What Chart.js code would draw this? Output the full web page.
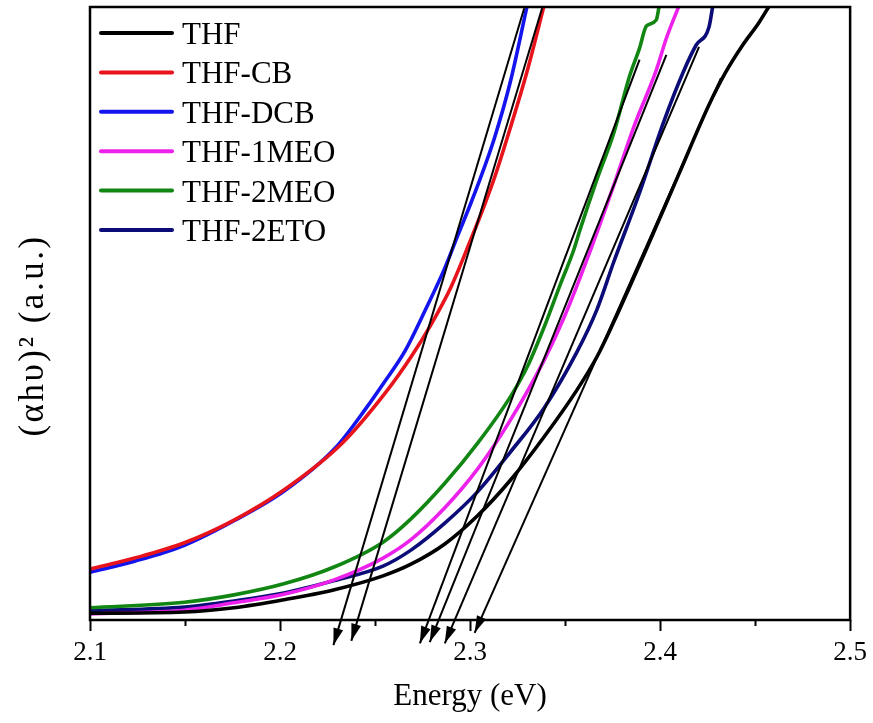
<!DOCTYPE html>
<html>
<head>
<meta charset="utf-8">
<script src="https://cdn.jsdelivr.net/npm/chart.js@4.4.1/dist/chart.umd.min.js"></script>
<style>
  html, body { margin: 0; padding: 0; background: #ffffff; }
  #wrap { width: 873px; height: 723px; }
  canvas { display: block; }
</style>
</head>
<body>
<div id="wrap"><canvas id="chart" width="873" height="723" style="width:873px;height:723px"></canvas></div>
<script>
// Tauc plot: (alpha*h*nu)^2 versus photon energy for six solvent systems.

const seriesNames  = ['THF', 'THF-CB', 'THF-DCB', 'THF-1MEO', 'THF-2MEO', 'THF-2ETO'];
const seriesColors = ['#000000', '#e8141c', '#1414ee', '#ec22ec', '#128612', '#0c0c78'];

// Energy (eV) and absorbance-squared (a.u.) for each series
const eTHF = [2.1000, 2.1497, 2.1758, 2.2020, 2.2281, 2.2542, 2.2689, 2.2867, 2.3039, 2.3212, 2.3390,
              2.3562, 2.3667, 2.3756, 2.3839, 2.3928, 2.4101, 2.4257, 2.4346, 2.4435, 2.4519, 2.4571];
const yTHF = [1.1, 1.3, 2.0, 3.3, 4.9, 7.2, 9.1, 12.4, 17.0, 22.8, 29.9,
              37.5, 42.9, 48.6, 54.3, 60.5, 72.9, 84.0, 89.4, 93.8, 97.4, 100.0];

const eCB = [2.1000, 2.1235, 2.1497, 2.1758, 2.2020, 2.2323, 2.2553, 2.2689, 2.2793, 2.2898,
             2.3003, 2.3076, 2.3128, 2.3212, 2.3301, 2.3390];
const yCB = [8.3, 10.1, 12.6, 16.3, 21.2, 28.7, 37.0, 42.9, 48.1, 54.2,
             62.0, 67.7, 72.1, 80.3, 89.6, 100.3];

const eDCB = [2.1000, 2.1235, 2.1497, 2.1758, 2.2020, 2.2292, 2.2454, 2.2542, 2.2658, 2.2762,
              2.2867, 2.2935, 2.3003, 2.3039, 2.3128, 2.3212, 2.3301];
const yDCB = [7.8, 9.6, 12.2, 16.2, 21.0, 28.1, 34.6, 38.5, 43.9, 50.4,
              57.4, 62.7, 67.9, 70.8, 78.6, 87.8, 100.3];

const e1MEO = [2.1000, 2.1497, 2.1758, 2.2020, 2.2281, 2.2542, 2.2689, 2.2867, 2.3039, 2.3212,
               2.3390, 2.3494, 2.3614, 2.3756, 2.3860, 2.3980, 2.4033, 2.4101];
const y1MEO = [1.0, 1.6, 2.8, 4.2, 6.5, 10.1, 13.1, 18.3, 24.6, 32.6,
               42.4, 49.3, 58.7, 70.9, 80.3, 89.7, 94.9, 100.3];

const e2MEO = [2.1000, 2.1497, 2.1758, 2.2020, 2.2281, 2.2542, 2.2689, 2.2867, 2.3039, 2.3212, 2.3301,
               2.3390, 2.3473, 2.3546, 2.3578, 2.3667, 2.3756, 2.3839, 2.3892, 2.3928, 2.3980, 2.3996];
const y2MEO = [2.0, 2.9, 4.1, 5.9, 8.6, 12.7, 16.5, 22.3, 28.8, 36.4, 41.3,
               47.8, 54.6, 60.4, 63.6, 71.8, 79.4, 88.7, 93.3, 96.9, 97.9, 100.3];

const e2ETO = [2.1000, 2.1497, 2.1758, 2.2020, 2.2281, 2.2542, 2.2689, 2.2867, 2.3039, 2.3212,
               2.3390, 2.3562, 2.3667, 2.3756, 2.3892, 2.4017, 2.4122, 2.4190, 2.4257, 2.4278];
const y2ETO = [1.5, 2.1, 3.1, 4.4, 6.4, 8.8, 11.4, 15.8, 20.9, 27.4,
               34.6, 43.7, 50.6, 58.4, 69.7, 81.1, 89.4, 93.8, 96.7, 100.3];

// Linear-region extrapolations (start on the curve, arrow tip below the energy axis)
const fitStartE = [2.4320, 2.3379, 2.3285, 2.4033, 2.3892, 2.4205];
const fitStartY = [88.4, 99.8, 99.8, 92.2, 91.4, 93.5];
const fitEndE   = [2.3024, 2.2375, 2.2281, 2.2788, 2.2736, 2.2867];
const fitEndY   = [-2.1, -3.4, -4.1, -3.6, -3.8, -3.8];

const xTicks = [2.1, 2.2, 2.3, 2.4, 2.5];
const xMinorTicks = [2.15, 2.25, 2.35, 2.45];

const SERIF = "'Times New Roman', 'Liberation Serif', serif";
Chart.defaults.font.family = SERIF;
Chart.defaults.color = '#000000';

const energies = [eTHF, eCB, eDCB, e1MEO, e2MEO, e2ETO];
const values   = [yTHF, yCB, yDCB, y1MEO, y2MEO, y2ETO];

const curveSets = seriesNames.map((name, i) => ({
  label: name,
  data: energies[i].map((e, k) => ({ x: e, y: values[i][k] })),
  borderColor: seriesColors[i],
  borderWidth: 3.6,
  pointRadius: 0,
  cubicInterpolationMode: 'monotone',
  fill: false,
  order: 1
}));

const fitSets = seriesNames.map((name, i) => ({
  label: name + ' fit',
  isFit: true,
  data: [{ x: fitStartE[i], y: fitStartY[i] }, { x: fitEndE[i], y: fitEndY[i] }],
  borderColor: '#000000',
  borderWidth: 2,
  pointRadius: 0,
  tension: 0,
  fill: false,
  clip: false,
  order: 0
}));

const decorations = {
  id: 'decorations',
  afterDatasetsDraw(chart) {
    const ctx = chart.ctx;
    ctx.save();
    ctx.fillStyle = '#000000';
    chart.data.datasets.forEach((ds, i) => {
      if (!ds.isFit) return;
      const pts = chart.getDatasetMeta(i).data;
      const a = pts[pts.length - 2], b = pts[pts.length - 1];
      const ang = Math.atan2(b.y - a.y, b.x - a.x);
      const len = 17, half = 5;
      const bx = b.x - len * Math.cos(ang), by = b.y - len * Math.sin(ang);
      ctx.beginPath();
      ctx.moveTo(b.x, b.y);
      ctx.lineTo(bx + half * Math.sin(ang), by - half * Math.cos(ang));
      ctx.lineTo(bx - half * Math.sin(ang), by + half * Math.cos(ang));
      ctx.closePath();
      ctx.fill();
    });
    ctx.restore();
  },
  afterDraw(chart) {
    const ctx = chart.ctx;
    const area = chart.chartArea;
    const xs = chart.scales.x;
    ctx.save();

    // plot frame
    ctx.strokeStyle = '#000000';
    ctx.lineWidth = 2.5;
    ctx.strokeRect(area.left, area.top, area.right - area.left, area.bottom - area.top);

    // minor ticks on the energy axis
    ctx.lineWidth = 2;
    xMinorTicks.forEach(v => {
      const px = Math.round(xs.getPixelForValue(v)) + 0.5;
      ctx.beginPath();
      ctx.moveTo(px, area.bottom);
      ctx.lineTo(px, area.bottom + 6);
      ctx.stroke();
    });

    // legend
    ctx.font = '31px ' + SERIF;
    ctx.textAlign = 'left';
    ctx.textBaseline = 'alphabetic';
    seriesNames.forEach((name, i) => {
      const y = area.top + 26 + i * 39.4;
      ctx.strokeStyle = seriesColors[i];
      ctx.lineWidth = 4;
      ctx.lineCap = 'round';
      ctx.beginPath();
      ctx.moveTo(101, y);
      ctx.lineTo(172, y);
      ctx.stroke();
      ctx.fillStyle = '#000000';
      ctx.fillText(name, 182, y + 11);
    });

    // vertical axis title
    ctx.translate(34, (area.top + area.bottom) / 2 + 22);
    ctx.rotate(-Math.PI / 2);
    ctx.textAlign = 'center';
    ctx.textBaseline = 'middle';
    ctx.fillStyle = '#000000';
    ctx.font = '35px ' + SERIF;
    if ('letterSpacing' in ctx) ctx.letterSpacing = '2.5px';
    ctx.fillText('(\u03B1h\u03C5)\u00B2 (a.u.)', 0, 0);
    ctx.restore();
  }
};

new Chart(document.getElementById('chart'), {
  type: 'line',
  data: { datasets: [...fitSets, ...curveSets] },
  options: {
    responsive: false,
    animation: false,
    events: [],
    layout: { padding: { left: 0, right: 20, top: 7, bottom: 8 } },
    plugins: { legend: { display: false }, tooltip: { enabled: false } },
    scales: {
      x: {
        type: 'linear',
        min: 2.1,
        max: 2.5,
        afterBuildTicks(scale) { scale.ticks = xTicks.map(v => ({ value: v })); },
        afterFit(scale) { scale.height = 95; },
        border: { display: false },
        grid: { display: true, drawOnChartArea: false, drawTicks: true, tickLength: 11, tickWidth: 2, tickColor: '#000000' },
        ticks: {
          padding: 6,
          color: '#000000',
          maxRotation: 0,
          autoSkip: false,
          font: { family: SERIF, size: 27 },
          callback: v => Number(v).toFixed(1)
        },
        title: {
          display: true,
          text: 'Energy (eV)',
          color: '#000000',
          font: { family: SERIF, size: 31 },
          padding: 0
        }
      },
      y: {
        type: 'linear',
        min: 0,
        max: 100,
        afterFit(scale) { scale.width = 90; },
        border: { display: false },
        grid: { display: false },
        ticks: { display: false },
        title: { display: false }
      }
    }
  },
  plugins: [decorations]
});
</script>
</body>
</html>
